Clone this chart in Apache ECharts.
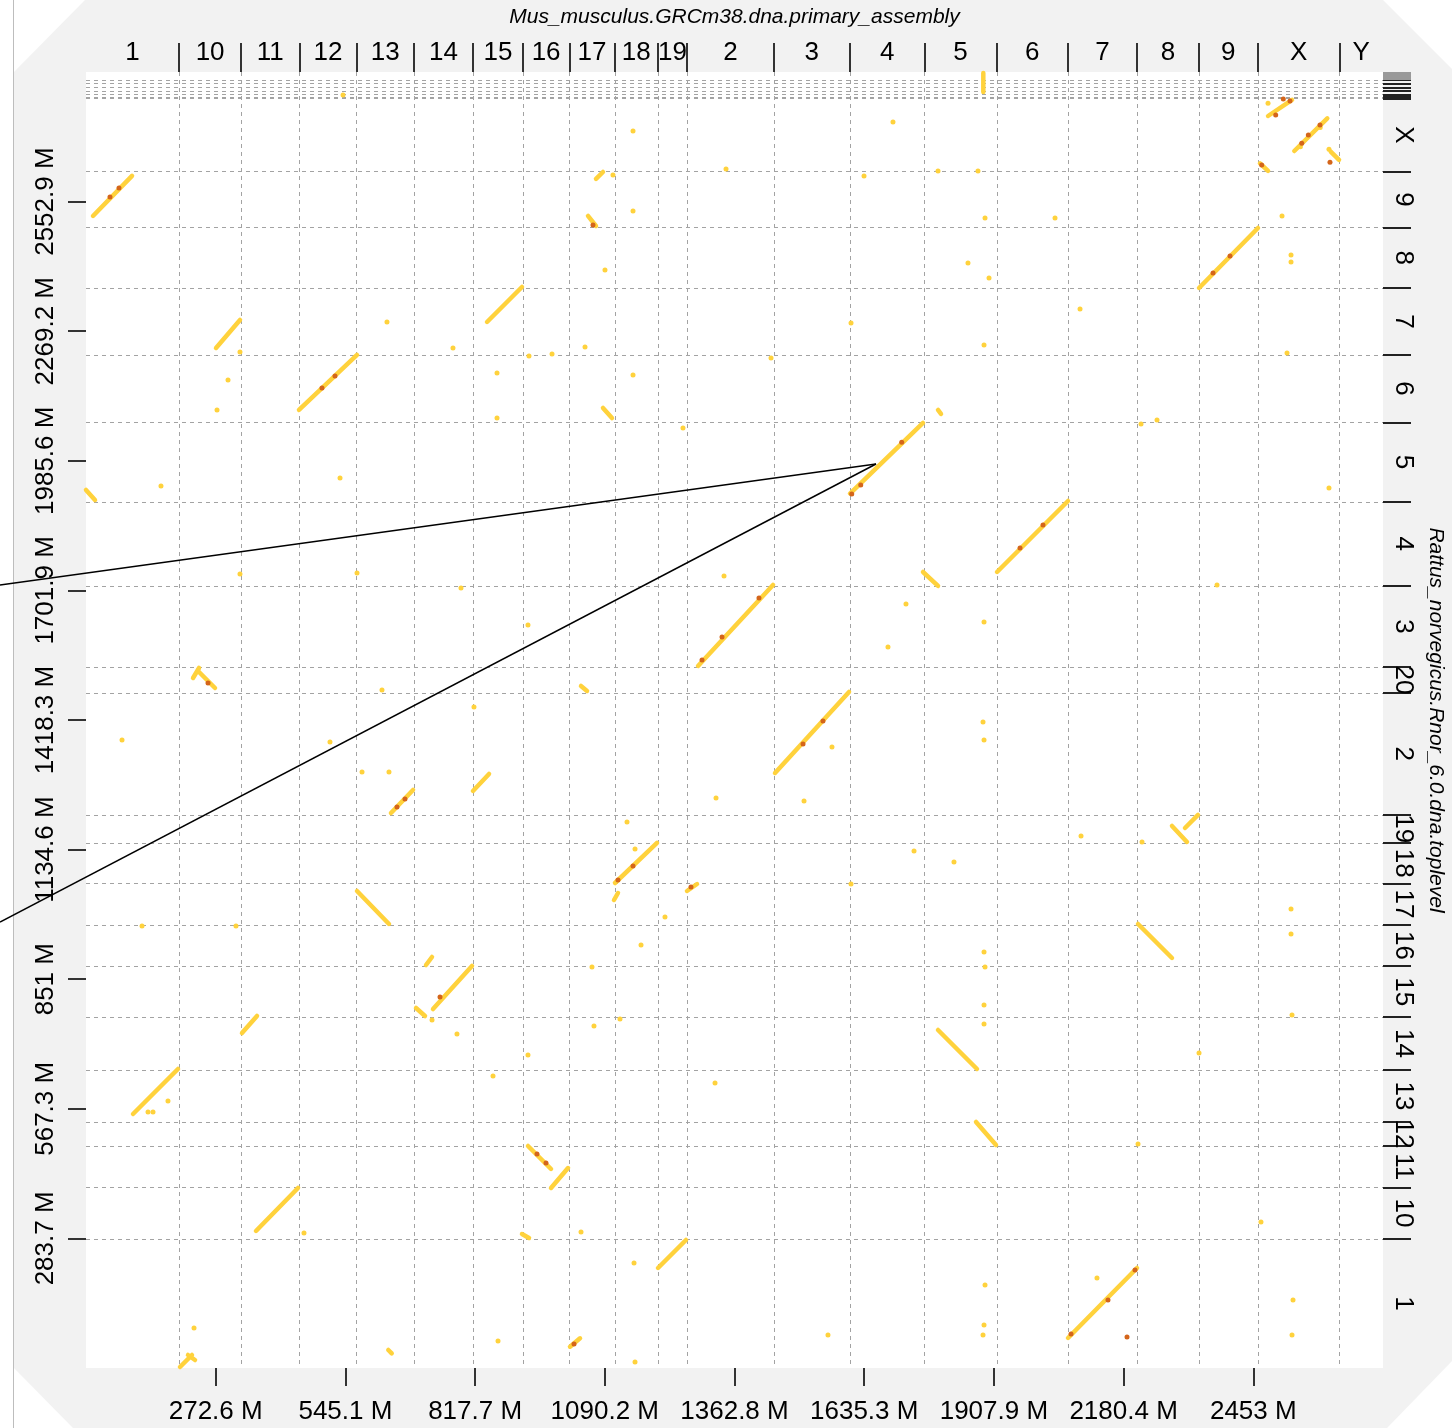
<!DOCTYPE html>
<html>
<head>
<meta charset="utf-8">
<script src="https://cdn.jsdelivr.net/npm/echarts@6/dist/echarts.min.js"></script>
<style>
  html, body { margin: 0; padding: 0; background: #fff; }
  #dotplot { width: 1452px; height: 1428px; }
</style>
</head>
<body>
<div id="dotplot"></div>
<script>
// mouse (x axis) chromosomes, in plotted order, sizes in Mb
const mouseChroms = ['1', '10', '11', '12', '13', '14', '15', '16', '17', '18', '19', '2', '3', '4', '5', '6', '7', '8', '9', 'X', 'Y'];
const mouseSizes = [195.47, 130.69, 122.08, 120.13, 120.42, 124.90, 104.04, 98.21, 94.99, 90.70, 61.43, 182.11, 160.04, 156.51, 151.83, 149.74, 145.44, 129.40, 124.60, 171.03, 91.74];
const mouseTotal = 2725.5;

// rat (y axis) chromosomes, bottom to top, sizes in Mb
const ratChroms = ['1', '10', '11', '12', '13', '14', '15', '16', '17', '18', '19', '2', '20', '3', '4', '5', '6', '7', '8', '9', 'X'];
const ratSizes = [282.76, 112.63, 90.46, 52.72, 114.03, 115.49, 111.25, 90.67, 90.84, 88.20, 62.28, 266.44, 56.21, 177.70, 184.23, 173.71, 147.99, 145.73, 133.31, 122.10, 159.97];
// Y + unplaced scaffolds above X
const ratScaffoldEdges = [2782.0, 2787.7, 2795.6, 2803.0, 2811.8, 2819.0];
const ratTotal = 2836.5;

const xTickValues = [272.55, 545.1, 817.65, 1090.2, 1362.75, 1635.3, 1907.85, 2180.4, 2452.95];
const xTickLabels = ['272.6 M', '545.1 M', '817.7 M', '1090.2 M', '1362.8 M', '1635.3 M', '1907.9 M', '2180.4 M', '2453 M'];
const yTickValues = [283.65, 567.3, 850.95, 1134.6, 1418.25, 1701.9, 1985.55, 2269.2, 2552.85];
const yTickLabels = ['283.7 M', '567.3 M', '851 M', '1134.6 M', '1418.3 M', '1701.9 M', '1985.6 M', '2269.2 M', '2552.9 M'];

const xTitle = 'Mus_musculus.GRCm38.dna.primary_assembly';
const yTitle = 'Rattus_norvegicus.Rnor_6.0.dna.toplevel';

// alignment blocks [mouseStart, ratStart, mouseEnd, ratEnd] (genome-wide Mb)
const segments = [
  [14.7, 2521.4, 96.7, 2609.0],
  [0, 1921.7, 18.9, 1899.8],
  [273.2, 2232.5, 323.6, 2293.8],
  [447.6, 2096.8, 569.5, 2217.2],
  [842.7, 2289.4, 916.2, 2366.0],
  [1071.7, 2602.4, 1086.4, 2617.7],
  [1054.9, 2521.4, 1071.7, 2499.5],
  [1605.5, 1913.9, 1758.9, 2068.3],
  [1914.4, 1742.2, 2063.6, 1897.6],
  [1758.9, 1742.2, 1790.4, 1711.6],
  [1286.1, 1536.5, 1443.7, 1713.8],
  [224.9, 1510.2, 237.5, 1532.1],
  [237.5, 1523.3, 271.1, 1488.3],
  [1447.9, 1302.3, 1603.4, 1479.6],
  [640.9, 1214.7, 687.2, 1265.1],
  [813.2, 1262.9, 846.9, 1300.1],
  [1111.6, 1061.5, 1199.9, 1149.1],
  [1109.5, 1024.3, 1117.9, 1039.6],
  [2282.1, 1186.3, 2313.6, 1151.3],
  [2309.4, 1181.9, 2336.8, 1210.4],
  [1262.9, 1044.0, 1284.0, 1059.3],
  [569.5, 1044.0, 636.7, 971.8],
  [2210.7, 971.8, 2282.1, 897.4],
  [729.2, 785.7, 811.1, 879.9],
  [714.5, 882.0, 727.1, 899.6],
  [693.5, 787.9, 712.4, 770.4],
  [327.8, 733.2, 359.3, 770.4],
  [1790.4, 739.8, 1872.3, 654.4],
  [98.8, 555.9, 193.3, 654.4],
  [1870.3, 538.4, 1912.3, 488.1],
  [928.8, 485.9, 977.2, 435.6],
  [977.2, 394.0, 1012.9, 437.7],
  [357.2, 299.9, 445.5, 394.0],
  [1202.0, 218.9, 1260.8, 280.2],
  [2063.6, 65.7, 2208.6, 218.9],
  [2539.1, 2663.6, 2608.4, 2735.2],
  [2483.9, 2740.2, 2534.3, 2775.3],
  [2467.0, 2636.7, 2483.9, 2619.9],
  [2615.6, 2662.1, 2633.1, 2644.0],
  [2338.9, 2363.8, 2462.8, 2495.1],
  [197.5, 2.2, 222.7, 28.5],
  [214.3, 28.5, 229.1, 17.5],
  [1017.1, 46.6, 1038.1, 65.0],
  [1885.6, 2834.4, 1885.6, 2792.8],
  [635.3, 39.4, 642.4, 32.1],
  [1086.4, 2101.1, 1105.3, 2079.2],
  [1040.2, 1492.7, 1052.8, 1481.8],
  [916.2, 293.3, 930.9, 284.5],
  [1790.4, 2096.8, 1796.7, 2088.1]
];

// high identity hits
const darkDots = [
  [50.4, 2563.0], [69.3, 2582.7], [495.9, 2144.9], [523.2, 2171.2],
  [1609.1, 1912.9], [1628.0, 1932.6], [1714.1, 2026.1], [1962.7, 1794.7], [2011.0, 1845.1],
  [1294.5, 1549.6], [1336.5, 1600.0], [1414.2, 1685.3], [1506.7, 1365.7], [1548.7, 1416.1],
  [653.5, 1227.9], [670.3, 1245.4], [1117.9, 1068.1], [1149.5, 1098.7], [743.9, 812.0],
  [947.7, 468.4], [966.6, 448.7], [2069.9, 74.4], [2147.6, 148.8], [2204.4, 214.5], [2187.6, 67.9],
  [2516.0, 2777.5], [2500.0, 2742.4], [2530.1, 2773.1], [2568.6, 2698.7], [2593.1, 2720.6],
  [2554.7, 2680.5], [2614.1, 2638.9], [2368.3, 2396.6], [2404.0, 2433.8], [1025.5, 52.5],
  [2470.6, 2633.0], [256.4, 1499.3], [1271.3, 1052.8], [1065.4, 2501.7]
];

// isolated hits
const dots = [
  [157.6, 1930.4], [75.7, 1374.5], [117.7, 967.4], [130.3, 560.3], [172.3, 584.4], [140.8, 560.3],
  [298.4, 2162.4], [275.3, 2096.8], [323.6, 2223.7], [323.6, 1737.8], [315.2, 967.4], [540.1, 2786.2],
  [632.5, 2289.4], [771.2, 2232.5], [863.7, 2177.8], [863.7, 2079.3], [930.9, 2215.0], [979.3, 2219.3],
  [1048.6, 2234.7], [533.8, 1947.9], [569.5, 1740.0], [622.0, 1483.9], [580.0, 1304.5], [512.7, 1370.1],
  [815.3, 1446.7], [788.0, 1707.2], [928.8, 1626.2], [1149.5, 2707.4], [1107.4, 2611.1], [1149.5, 2532.3],
  [1090.6, 2403.2], [1149.5, 2173.4], [1254.5, 2057.4], [1344.9, 2624.3], [1439.5, 2210.6], [1607.6, 2287.2],
  [1634.9, 2608.9], [1695.8, 2727.1], [1790.4, 2619.9], [1874.4, 2619.9], [1889.2, 2517.0], [1853.4, 2418.5],
  [1897.6, 2385.7], [1887.1, 2239.0], [2088.8, 2317.8], [2036.3, 2517.0], [2250.6, 2074.9], [2217.0, 2066.1],
  [2513.3, 2521.4], [2532.2, 2436.0], [2532.2, 2420.7], [2523.8, 2221.5], [2612.0, 1926.1], [2376.7, 1713.8],
  [1340.7, 1733.4], [1723.1, 1672.2], [1685.3, 1578.1], [1887.1, 1632.8], [1885.0, 1413.9], [1887.1, 1374.5],
  [1567.6, 1359.2], [1508.8, 1241.0], [1323.9, 1247.6], [1740.0, 1131.6], [1824.0, 1107.5], [1607.6, 1059.3],
  [1136.9, 1195.0], [1153.7, 1135.9], [1166.3, 925.8], [1216.7, 987.1], [1063.3, 877.7], [1122.1, 763.9],
  [1067.5, 748.5], [928.8, 685.1], [855.3, 639.1], [1321.8, 623.8], [1887.1, 910.5], [1889.2, 877.7],
  [1887.1, 794.5], [1887.1, 752.9], [2338.9, 689.4], [2532.2, 1004.6], [2532.2, 949.9], [2534.3, 772.6],
  [2210.7, 490.3], [2469.1, 319.6], [2090.9, 1164.4], [2219.1, 1151.3], [1151.6, 229.8], [2124.5, 197.0],
  [2536.4, 148.8], [2534.3, 72.2], [1889.2, 181.7], [1887.1, 94.1], [1885.0, 72.2], [1559.2, 72.2],
  [865.8, 59.1], [1153.7, 13.1], [227.0, 87.5], [458.1, 295.5], [779.6, 731.0], [1040.2, 297.7],
  [636.7, 1304.5], [727.1, 761.7], [2593.6, 2715.0], [2551.9, 2672.8], [2483.9, 2768.0], [2612.0, 2667.5]
];

// apex of the two annotation lines (Mb)
const pointerApex = [1660.1, 1978.6];

// derived chromosome boundaries and label positions
function cumulate (sizes) {
  let acc = 0;
  const edges = [];
  const centers = [];
  sizes.forEach(s => {
    centers.push(acc + s / 2);
    acc += s;
    edges.push(acc);
  });
  return { edges, centers };
}
const mouse = cumulate(mouseSizes);
const rat = cumulate(ratSizes);
const mouseEdges = mouse.edges.slice(0, -1);
const ratEdges = rat.edges.concat(ratScaffoldEdges);

function nearestIndex (arr, v) {
  let best = 0;
  arr.forEach((a, i) => { if (Math.abs(a - v) < Math.abs(arr[best] - v)) best = i; });
  return best;
}

const FONT = "'Liberation Sans', Arial, sans-serif";
const LABEL_SIZE = 26;
const TITLE_SIZE = 21;
const YELLOW = '#FFD23C';
const DARK = '#D4651A';
const GRID_LINE = { stroke: '#a3a3a3', lineWidth: 1, lineDash: [4, 4] };

var dotplot = echarts.init(document.getElementById('dotplot'));

var option = {
  animation: false,
  backgroundColor: '#ffffff',
  grid: {
    left: 86,
    top: 72,
    width: 1297,
    height: 1296,
    show: true,
    backgroundColor: '#ffffff',
    borderWidth: 0,
    outerBoundsMode: 'none'
  },
  xAxis: [
    {
      type: 'value',
      position: 'bottom',
      min: 0,
      max: mouseTotal,
      axisLine: { show: false, onZero: false },
      splitLine: { show: false },
      axisTick: { show: true, customValues: xTickValues, length: 18, lineStyle: { color: '#333', width: 2 } },
      axisLabel: {
        customValues: xTickValues,
        margin: 31,
        fontSize: LABEL_SIZE,
        fontFamily: FONT,
        color: '#000',
        formatter: v => xTickLabels[nearestIndex(xTickValues, v)]
      }
    },
    {
      type: 'value',
      position: 'top',
      min: 0,
      max: mouseTotal,
      name: xTitle,
      nameLocation: 'middle',
      nameGap: 44,
      nameTextStyle: { fontSize: TITLE_SIZE, fontStyle: 'italic', fontFamily: FONT, color: '#000' },
      axisLine: { show: false, onZero: false },
      splitLine: { show: false },
      axisTick: { show: true, customValues: mouseEdges, length: 29, lineStyle: { color: '#333', width: 2 } },
      axisLabel: {
        customValues: mouse.centers,
        margin: 6,
        fontSize: LABEL_SIZE,
        fontFamily: FONT,
        color: '#000',
        formatter: v => mouseChroms[nearestIndex(mouse.centers, v)]
      }
    }
  ],
  yAxis: [
    {
      type: 'value',
      position: 'left',
      min: 0,
      max: ratTotal,
      axisLine: { show: false, onZero: false },
      splitLine: { show: false },
      axisTick: { show: true, customValues: yTickValues, length: 18, lineStyle: { color: '#333', width: 2 } },
      axisLabel: {
        customValues: yTickValues,
        rotate: 90,
        margin: 27,
        fontSize: LABEL_SIZE,
        fontFamily: FONT,
        color: '#000',
        formatter: v => yTickLabels[nearestIndex(yTickValues, v)]
      }
    },
    {
      type: 'value',
      position: 'right',
      min: 0,
      max: ratTotal,
      name: yTitle,
      nameLocation: 'middle',
      nameGap: 42,
      nameRotate: -90,
      nameTextStyle: { fontSize: TITLE_SIZE, fontStyle: 'italic', fontFamily: FONT, color: '#000' },
      axisLine: { show: false, onZero: false },
      splitLine: { show: false },
      axisTick: { show: true, customValues: ratEdges, length: 28, lineStyle: { color: '#222', width: 2 } },
      axisLabel: {
        customValues: rat.centers,
        rotate: -90,
        margin: 7,
        fontSize: LABEL_SIZE,
        fontFamily: FONT,
        color: '#000',
        formatter: v => ratChroms[nearestIndex(rat.centers, v)]
      }
    }
  ],
  series: [
    {
      // mouse chromosome boundaries
      type: 'custom',
      silent: true,
      data: mouseEdges.map(v => [v, 0]),
      renderItem: (params, api) => {
        const cs = params.coordSys;
        const x = Math.round(api.coord([api.value(0), 0])[0]) + 0.5;
        return { type: 'line', shape: { x1: x, y1: cs.y, x2: x, y2: cs.y + cs.height }, style: GRID_LINE };
      }
    },
    {
      // rat chromosome boundaries
      type: 'custom',
      silent: true,
      data: ratEdges.map(v => [0, v]),
      renderItem: (params, api) => {
        const cs = params.coordSys;
        const y = Math.round(api.coord([0, api.value(1)])[1]) + 0.5;
        return { type: 'line', shape: { x1: cs.x, y1: y, x2: cs.x + cs.width, y2: y }, style: GRID_LINE };
      }
    },
    {
      // dense scaffold boundaries on the right margin
      type: 'custom',
      silent: true,
      clip: false,
      data: [[0, ratScaffoldEdges[ratScaffoldEdges.length - 1], ratTotal]],
      renderItem: (params, api) => {
        const cs = params.coordSys;
        const y1 = api.coord([0, api.value(1)])[1];
        const y2 = api.coord([0, api.value(2)])[1];
        return { type: 'rect', shape: { x: cs.x + cs.width, y: y2, width: 28, height: y1 - y2 }, style: { fill: '#999' } };
      }
    },
    {
      type: 'custom',
      silent: true,
      data: segments,
      encode: { x: [0, 2], y: [1, 3] },
      renderItem: (params, api) => {
        const p1 = api.coord([api.value(0), api.value(1)]);
        const p2 = api.coord([api.value(2), api.value(3)]);
        return {
          type: 'line',
          shape: { x1: p1[0], y1: p1[1], x2: p2[0], y2: p2[1] },
          style: { stroke: YELLOW, lineWidth: 4.5, lineCap: 'round' }
        };
      }
    },
    {
      type: 'scatter',
      silent: true,
      symbolSize: 5,
      itemStyle: { color: YELLOW, opacity: 1 },
      data: dots
    },
    {
      type: 'scatter',
      silent: true,
      symbolSize: 5,
      itemStyle: { color: DARK, opacity: 1 },
      data: darkDots
    }
  ]
};

dotplot.setOption(option);

// page frame and the two pointer lines
const apex = dotplot.convertToPixel({ gridIndex: 0 }, pointerApex);
dotplot.setOption({
  graphic: [
    {
      type: 'polygon',
      z: -10,
      silent: true,
      shape: { points: [[85, 0], [1383, 0], [1452, 69], [1452, 1361], [1387, 1428], [73, 1428], [14, 1368], [14, 72]] },
      style: { fill: '#f2f2f2' }
    },
    {
      type: 'line',
      z: -9,
      silent: true,
      shape: { x1: 13.5, y1: 0, x2: 13.5, y2: 1428 },
      style: { stroke: '#bdbdbd', lineWidth: 1 }
    },
    {
      type: 'line',
      z: 100,
      silent: true,
      shape: { x1: 0, y1: 585, x2: apex[0], y2: apex[1] },
      style: { stroke: '#000', lineWidth: 1.5 }
    },
    {
      type: 'line',
      z: 100,
      silent: true,
      shape: { x1: 0, y1: 922, x2: apex[0], y2: apex[1] },
      style: { stroke: '#000', lineWidth: 1.5 }
    }
  ]
});

window.addEventListener('resize', () => {
  dotplot.resize();
});
</script>
</body>
</html>
